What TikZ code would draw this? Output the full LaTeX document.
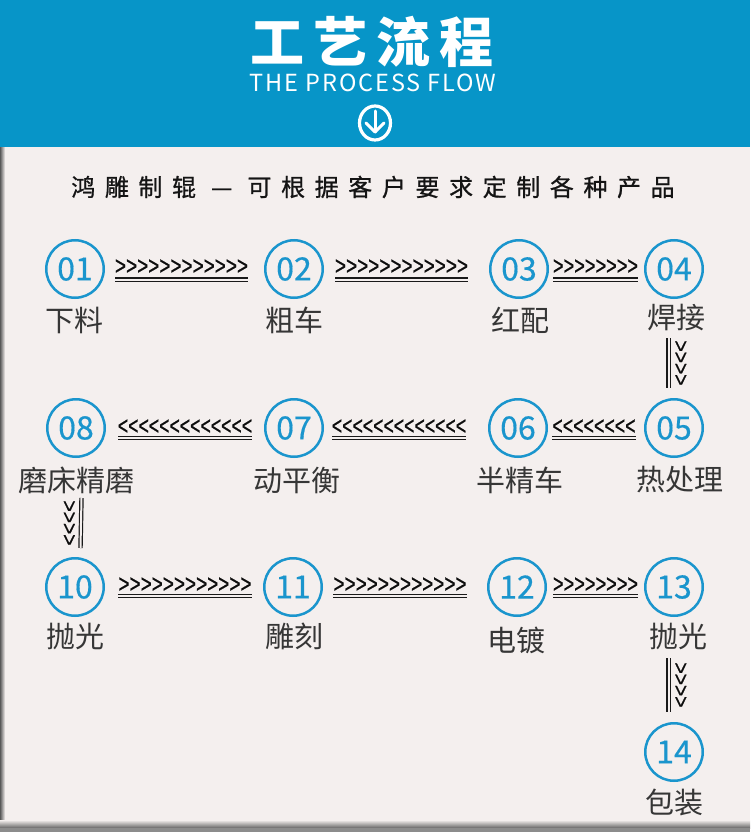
\documentclass[tikz,border=0pt]{standalone}
\usepackage{fontspec}
\usepackage{graphicx}
\setmainfont{Noto Sans CJK SC}
\newfontfamily\subtf{Noto Sans CJK SC}[LetterSpace=8]
\newfontfamily\headf{Noto Sans CJK SC}[LetterSpace=40, FakeBold=0.8]
\newfontfamily\numf{Noto Sans CJK SC}[FakeBold=0.5]
\newfontfamily\chevf{Liberation Sans}[FakeBold=0.6]
\usetikzlibrary{calc}
\definecolor{hdr}{HTML}{0795C8}
\definecolor{bg}{HTML}{F4EFEE}
\definecolor{numblue}{HTML}{1A95CD}
\definecolor{lblc}{HTML}{363636}
\newcommand\chevrow[2]{\scalebox{#1}[1]{#2}}
\tikzset{
  stepc/.style={circle, draw=numblue, line width=2.5pt, minimum size=57.5pt, inner sep=0pt,
    text=numblue, font=\numf\fontsize{32}{32}\selectfont},
  lbl/.style={text=lblc, font=\fontsize{29}{30}\selectfont, inner sep=0pt},
  dbl/.style={draw=black!90, line width=1.2pt, double=bg, double distance=2pt},
  chev/.style={font=\chevf\fontsize{26}{26}\selectfont, text=black!95, inner sep=0pt},
}
\begin{document}
\begin{tikzpicture}[x=1pt,y=-1pt]
\useasboundingbox (0,0) rectangle (750,832);
\fill[bg] (0,0) rectangle (750,832);
\fill[hdr] (0,0) rectangle (750,147);
% edge shadows
\shade[left color=black!65, right color=bg] (0,147) rectangle (5,832);
\shade[top color=bg, bottom color=black!60] (0,820) rectangle (750,828);
\fill[black!45] (0,828) rectangle (750,832);

% header
\node[text=white, font=\fontsize{54}{54}\selectfont\bfseries, inner sep=0pt] (title) at (372,42)
  {工\hspace{9pt}艺\hspace{9pt}流\hspace{9pt}程};
\node[text=white, font=\subtf\fontsize{23.5}{23.5}\selectfont, inner sep=0pt] (subt) at (373,83) {THE PROCESS FLOW};
\draw[white, line width=3.2pt] (375,123) ellipse (15.5 and 17);
\draw[white, line width=3pt, line cap=round, line join=round] (375,111) -- (375,132);
\draw[white, line width=3pt, line cap=round, line join=round] (366,123) -- (375,132) -- (384,123);

\node[text=black!92, font=\headf\fontsize{24}{24}\selectfont, inner sep=0pt] (head) at (373,187)
  {鸿雕制辊 — 可根据客户要求定制各种产品};

% circles
\node[stepc] (c01) at (75,269) {01};
\node[stepc] (c02) at (294,269) {02};
\node[stepc] (c03) at (519,269) {03};
\node[stepc] (c04) at (674,269) {04};
\node[stepc] (c05) at (674,428) {05};
\node[stepc] (c06) at (518,428) {06};
\node[stepc] (c07) at (294,428) {07};
\node[stepc] (c08) at (76,428) {08};
\node[stepc] (c10) at (75,587) {10};
\node[stepc] (c11) at (293,587) {11};
\node[stepc] (c12) at (517,587) {12};
\node[stepc] (c13) at (674,587) {13};
\node[stepc] (c14) at (674,752) {14};

% labels
\node[lbl] (l01) at (74,320) {下料};
\node[lbl] (l02) at (294,320) {粗车};
\node[lbl] (l03) at (520,320) {红配};
\node[lbl] (l04) at (676,318) {焊接};
\node[lbl] (l05) at (680,480) {热处理};
\node[lbl] (l06) at (520,480) {半精车};
\node[lbl] (l07) at (297,480) {动平衡};
\node[lbl] (l08) at (76,480) {磨床精磨};
\node[lbl] (l10) at (75,636) {抛光};
\node[lbl] (l11) at (294,636) {雕刻};
\node[lbl] (l12) at (516,640) {电镀};
\node[lbl] (l13) at (678,636) {抛光};
\node[lbl] (l14) at (674,802) {包装};

% row 1
\draw[dbl] ([shift={(40,10.5)}]c01.center) -- node[chev, yshift=12.5pt] {\chevrow{0.73}{>>>>>>>>>>>>}} ([shift={(-46,10.5)}]c02.center);
\draw[dbl] ([shift={(41,10.5)}]c02.center) -- node[chev, yshift=12.5pt] {\chevrow{0.73}{>>>>>>>>>>>>}} ([shift={(-51,10.5)}]c03.center);
\draw[dbl] ([shift={(34,10.5)}]c03.center) -- node[chev, yshift=12.5pt] {\chevrow{0.70}{>>>>>>>>}} ([shift={(-36,10.5)}]c04.center);
% row 2
\draw[dbl] ([shift={(-38,10)}]c05.center) -- node[chev, yshift=11pt] {\chevrow{0.685}{<<<<<<<<}} ([shift={(34,10)}]c06.center);
\draw[dbl] ([shift={(-52,10)}]c06.center) -- node[chev, yshift=11pt] {\chevrow{0.68}{<<<<<<<<<<<<<}} ([shift={(38,10)}]c07.center);
\draw[dbl] ([shift={(-42,10)}]c07.center) -- node[chev, yshift=11pt] {\chevrow{0.68}{<<<<<<<<<<<<<}} ([shift={(42,10)}]c08.center);
% row 3
\draw[dbl] ([shift={(43,9)}]c10.center) -- node[chev, yshift=11pt] {\chevrow{0.73}{>>>>>>>>>>>>}} ([shift={(-41,9)}]c11.center);
\draw[dbl] ([shift={(40,9)}]c11.center) -- node[chev, yshift=11pt] {\chevrow{0.73}{>>>>>>>>>>>>}} ([shift={(-50,9)}]c12.center);
\draw[dbl] ([shift={(36,9)}]c12.center) -- node[chev, yshift=11pt] {\chevrow{0.70}{>>>>>>>>}} ([shift={(-36,9)}]c13.center);
% verticals
\draw[dbl] ([shift={(-5.5,69)}]c04.center) -- node[chev, rotate=-90, yshift=11.5pt] {\chevrow{0.74}{\scalebox{1}[0.85]{>>>>}}} ([shift={(-5.5,-40)}]c05.center);
\draw[dbl] ([shift={(5.5,70)}]c08.center) -- node[chev, rotate=-90, yshift=-12.5pt] {\chevrow{0.74}{\scalebox{1}[0.85]{>>>>}}} ([shift={(5.5,-39)}]c10.center);
\draw[dbl] ([shift={(-5.5,71)}]c13.center) -- node[chev, rotate=-90, yshift=11.5pt] {\chevrow{0.74}{\scalebox{1}[0.85]{>>>>}}} ([shift={(-5.5,-40)}]c14.center);
\end{tikzpicture}
\end{document}
